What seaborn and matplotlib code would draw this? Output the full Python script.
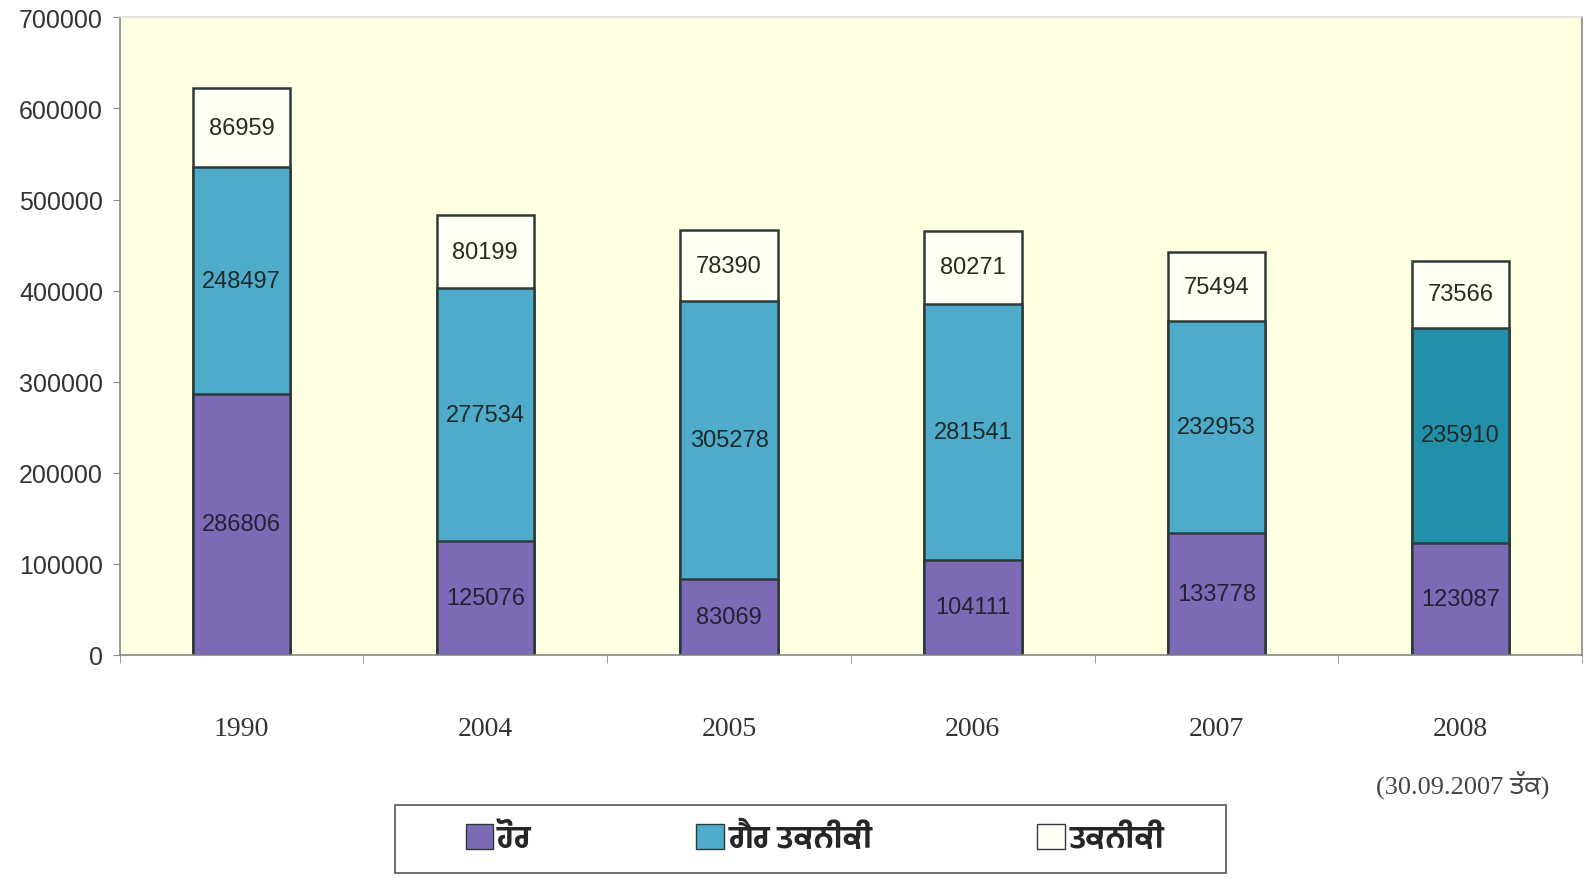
import matplotlib
matplotlib.use('Agg')
import matplotlib.pyplot as plt
import numpy as np
import pandas as pd
import seaborn as sns
from matplotlib.patches import Patch, Rectangle

# dati
years = ['1990', '2004', '2005', '2006', '2007', '2008']
other = [286806, 125076, 83069, 104111, 133778, 123087]        # ਹੋਰ
non_technical = [248497, 277534, 305278, 281541, 232953, 235910]  # ਗੈਰ ਤਕਨੀਕੀ
technical = [86959, 80199, 78390, 80271, 75494, 73566]         # ਤਕਨੀਕੀ
series_labels = ['ਹੋਰ', 'ਗੈਰ ਤਕਨੀਕੀ', 'ਤਕਨੀਕੀ']
yticks = [0, 100000, 200000, 300000, 400000, 500000, 600000, 700000]
note_2008 = '(30.09.2007 ਤੱਕ)'

sns.set_style('white')
plt.rcParams['font.family'] = ['Liberation Sans', 'Noto Sans Gurmukhi', 'DejaVu Sans']

col_other = '#7c6ab6'
col_nontech = '#4eabc9'
col_nontech_2008 = '#2290a8'
col_tech = '#fffff4'
edge = '#2e3a3a'
bg = '#ffffe2'

df = pd.DataFrame({'anno': years, 'ho': other, 'nt': non_technical, 't': technical})
df['cum_nt'] = df['ho'] + df['nt']
df['cum_t'] = df['cum_nt'] + df['t']

fig = plt.figure(figsize=(15.95, 8.79), dpi=100)
ax = fig.add_axes([0.075, 0.254, 0.917, 0.725])
ax.set_facecolor(bg)

# barre sovrapposte (totale cumulativo -> parziale)
sns.barplot(data=df, x='anno', y='cum_t', color=col_tech, edgecolor=edge,
            linewidth=1.8, width=0.4, saturation=1, ax=ax)
n0 = len(ax.patches)
sns.barplot(data=df, x='anno', y='cum_nt', color=col_nontech, edgecolor=edge,
            linewidth=1.8, width=0.4, saturation=1, ax=ax)
ax.patches[n0 + len(years) - 1].set_facecolor(col_nontech_2008)
sns.barplot(data=df, x='anno', y='ho', color=col_other, edgecolor=edge,
            linewidth=1.8, width=0.4, saturation=1, ax=ax)

# etichette dei valori al centro dei segmenti
for i in range(len(years)):
    ax.text(i, df['ho'][i] / 2, f"{df['ho'][i]}", ha='center', va='center',
            fontsize=17, color='#222233')
    ax.text(i, df['ho'][i] + df['nt'][i] / 2, f"{df['nt'][i]}", ha='center',
            va='center', fontsize=17, color='#1d2a2a')
    ax.text(i, df['cum_nt'][i] + df['t'][i] / 2, f"{df['t'][i]}", ha='center',
            va='center', fontsize=17, color='#2a2a22')

ax.set_xlim(-0.5, len(years) - 0.5)
ax.set_ylim(0, 700000)
ax.set_yticks(yticks)
ax.set_yticklabels([str(v) for v in yticks], fontsize=18, color='#333333')
ax.set_xlabel('')
ax.set_ylabel('')
ax.tick_params(axis='y', length=5, color='#888888', left=True, pad=7)
ax.tick_params(axis='x', which='major', length=0, pad=44)
ax.set_xticks(np.arange(len(years) + 1) - 0.5, minor=True)
ax.tick_params(axis='x', which='minor', length=6, color='#888888', bottom=True)
for lab in ax.get_xticklabels():
    lab.set_fontfamily('Liberation Serif')
    lab.set_fontsize(20)
    lab.set_color('#333333')

for s in ax.spines.values():
    s.set_color('#888888')
    s.set_linewidth(1.2)
ax.spines['top'].set_color('#dddddd')

fig.text(0.917, 0.106, note_2008, ha='center', va='center', fontsize=19,
         color='#444444', family=['Liberation Serif', 'Noto Sans Gurmukhi'])

# riquadro della legenda disegnato a parte (più largo del contenuto)
fig.patches.append(Rectangle((0.2476, 0.006), 0.521, 0.077, transform=fig.transFigure,
                             facecolor='white', edgecolor='#555555', linewidth=1.2))

handles = [Patch(facecolor=col_other, edgecolor=edge),
           Patch(facecolor=col_nontech, edgecolor=edge),
           Patch(facecolor=col_tech, edgecolor=edge)]
leg = fig.legend(handles, series_labels, loc='center', ncol=3,
                 bbox_to_anchor=(0.511, 0.046), frameon=False,
                 handlelength=0.9, handleheight=0.9, handletextpad=0.15,
                 columnspacing=5.4,
                 prop={'family': 'Hind Jalandhar', 'weight': 'bold', 'size': 22})

plt.savefig('out.png', dpi=100)
